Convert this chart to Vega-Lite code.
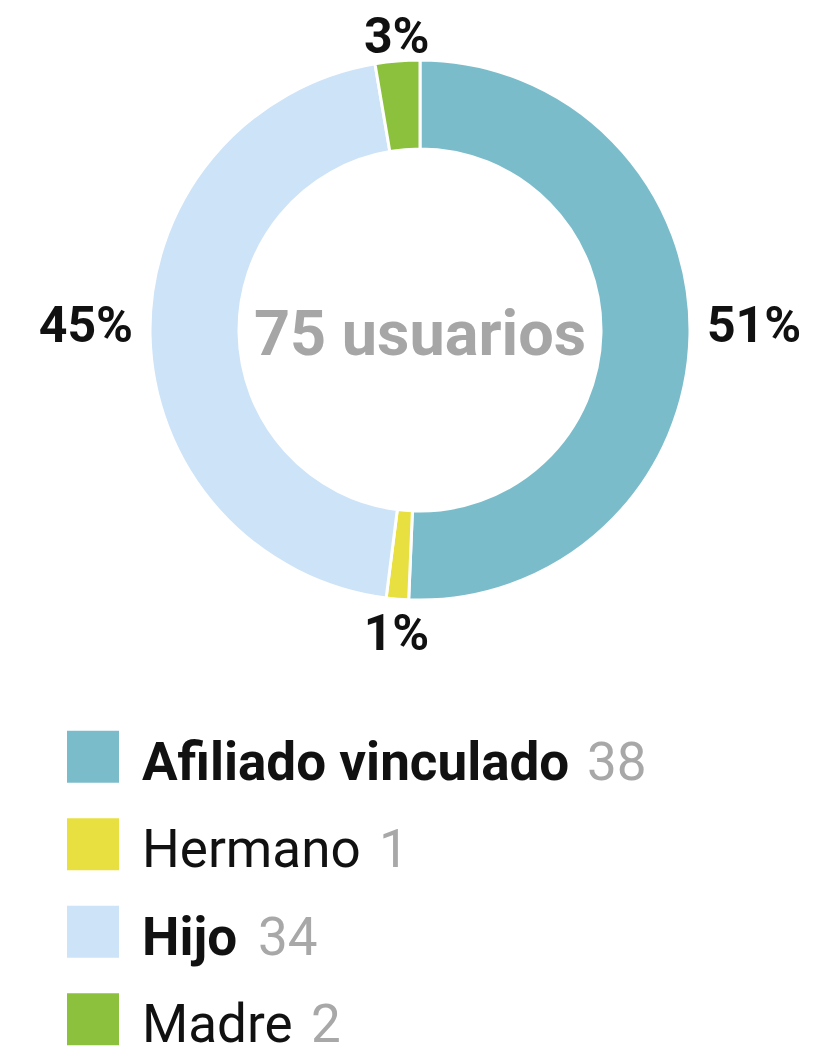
{
  "$schema": "https://vega.github.io/schema/vega-lite/v6.json",
  "padding": 0,
  "spacing": 53,
  "bounds": "flush",
  "background": "white",
  "config": {"view": {"stroke": null}, "font": "Roboto, sans-serif"},
  "data": {"values": [
    {"idx": 1, "cat": "Afiliado vinculado", "n": 38},
    {"idx": 2, "cat": "Hermano", "n": 1},
    {"idx": 3, "cat": "Hijo", "n": 34},
    {"idx": 4, "cat": "Madre", "n": 2}
  ]},
  "vconcat": [
    {
      "width": 840,
      "height": 660,
      "transform": [
        {"joinaggregate": [{"op": "sum", "field": "n", "as": "total"}]},
        {"calculate": "datum.n / datum.total", "as": "pct"}
      ],
      "encoding": {
        "theta": {"field": "n", "type": "quantitative", "stack": true},
        "order": {"field": "idx", "type": "ordinal"}
      },
      "layer": [
        {
          "mark": {"type": "arc", "outerRadius": 270, "innerRadius": 181, "stroke": "white", "strokeWidth": 3},
          "encoding": {
            "color": {
              "field": "cat", "type": "nominal", "legend": null,
              "scale": {"domain": ["Afiliado vinculado", "Hermano", "Hijo", "Madre"], "range": ["#7BBCCB", "#E8E040", "#CDE3F8", "#8BC13D"]}
            }
          }
        },
        {
          "mark": {
            "type": "text", "fontSize": 50, "fontWeight": "bold", "color": "#111111",
            "radius": {"expr": "datum.cat == 'Madre' ? 278 : datum.cat == 'Hermano' ? 281 : 287"},
            "align": {"expr": "datum.cat == 'Afiliado vinculado' ? 'left' : datum.cat == 'Hijo' ? 'right' : 'center'"},
            "baseline": {"expr": "datum.cat == 'Madre' ? 'alphabetic' : datum.cat == 'Hermano' ? 'top' : 'middle'"},
            "dy": {"expr": "datum.cat == 'Afiliado vinculado' || datum.cat == 'Hijo' ? -9 : 0"}
          },
          "encoding": {
            "text": {"field": "pct", "type": "quantitative", "format": ".0%"}
          }
        },
        {
          "transform": [
            {"aggregate": [{"op": "sum", "field": "n", "as": "tot"}]},
            {"calculate": "datum.tot + ' usuarios'", "as": "label"}
          ],
          "mark": {"type": "text", "fontSize": 63, "fontWeight": "bold", "color": "#A6A6A6", "baseline": "alphabetic", "align": "center", "dy": 25},
          "encoding": {
            "text": {"field": "label", "type": "nominal"},
            "theta": null,
            "order": null
          }
        }
      ]
    },
    {
      "width": 186,
      "height": 350,
      "encoding": {
        "y": {"field": "cat", "type": "nominal", "axis": null, "sort": {"field": "idx"}, "scale": {"paddingInner": 0, "paddingOuter": 0}}
      },
      "layer": [
        {
          "mark": {"type": "square", "size": 2704, "opacity": 1, "filled": true},
          "encoding": {
            "color": {
              "field": "cat", "type": "nominal", "legend": null,
              "scale": {"domain": ["Afiliado vinculado", "Hermano", "Hijo", "Madre"], "range": ["#7BBCCB", "#E8E040", "#CDE3F8", "#8BC13D"]}
            }
          }
        },
        {
          "mark": {
            "type": "text", "align": "left", "baseline": "alphabetic", "dx": 49, "dy": 23, "fontSize": 53, "color": "#111111",
            "fontWeight": {"expr": "datum.n > 10 ? 'bold' : 'normal'"}
          },
          "encoding": {"text": {"field": "cat", "type": "nominal"}}
        },
        {
          "mark": {
            "type": "text", "align": "left", "baseline": "alphabetic", "dy": 23, "fontSize": 53, "color": "#A8A8A8",
            "dx": {"expr": "datum.cat == 'Afiliado vinculado' ? 494 : datum.cat == 'Hermano' ? 286 : datum.cat == 'Hijo' ? 165 : 218"}
          },
          "encoding": {"text": {"field": "n", "type": "quantitative"}}
        }
      ]
    }
  ]
}
